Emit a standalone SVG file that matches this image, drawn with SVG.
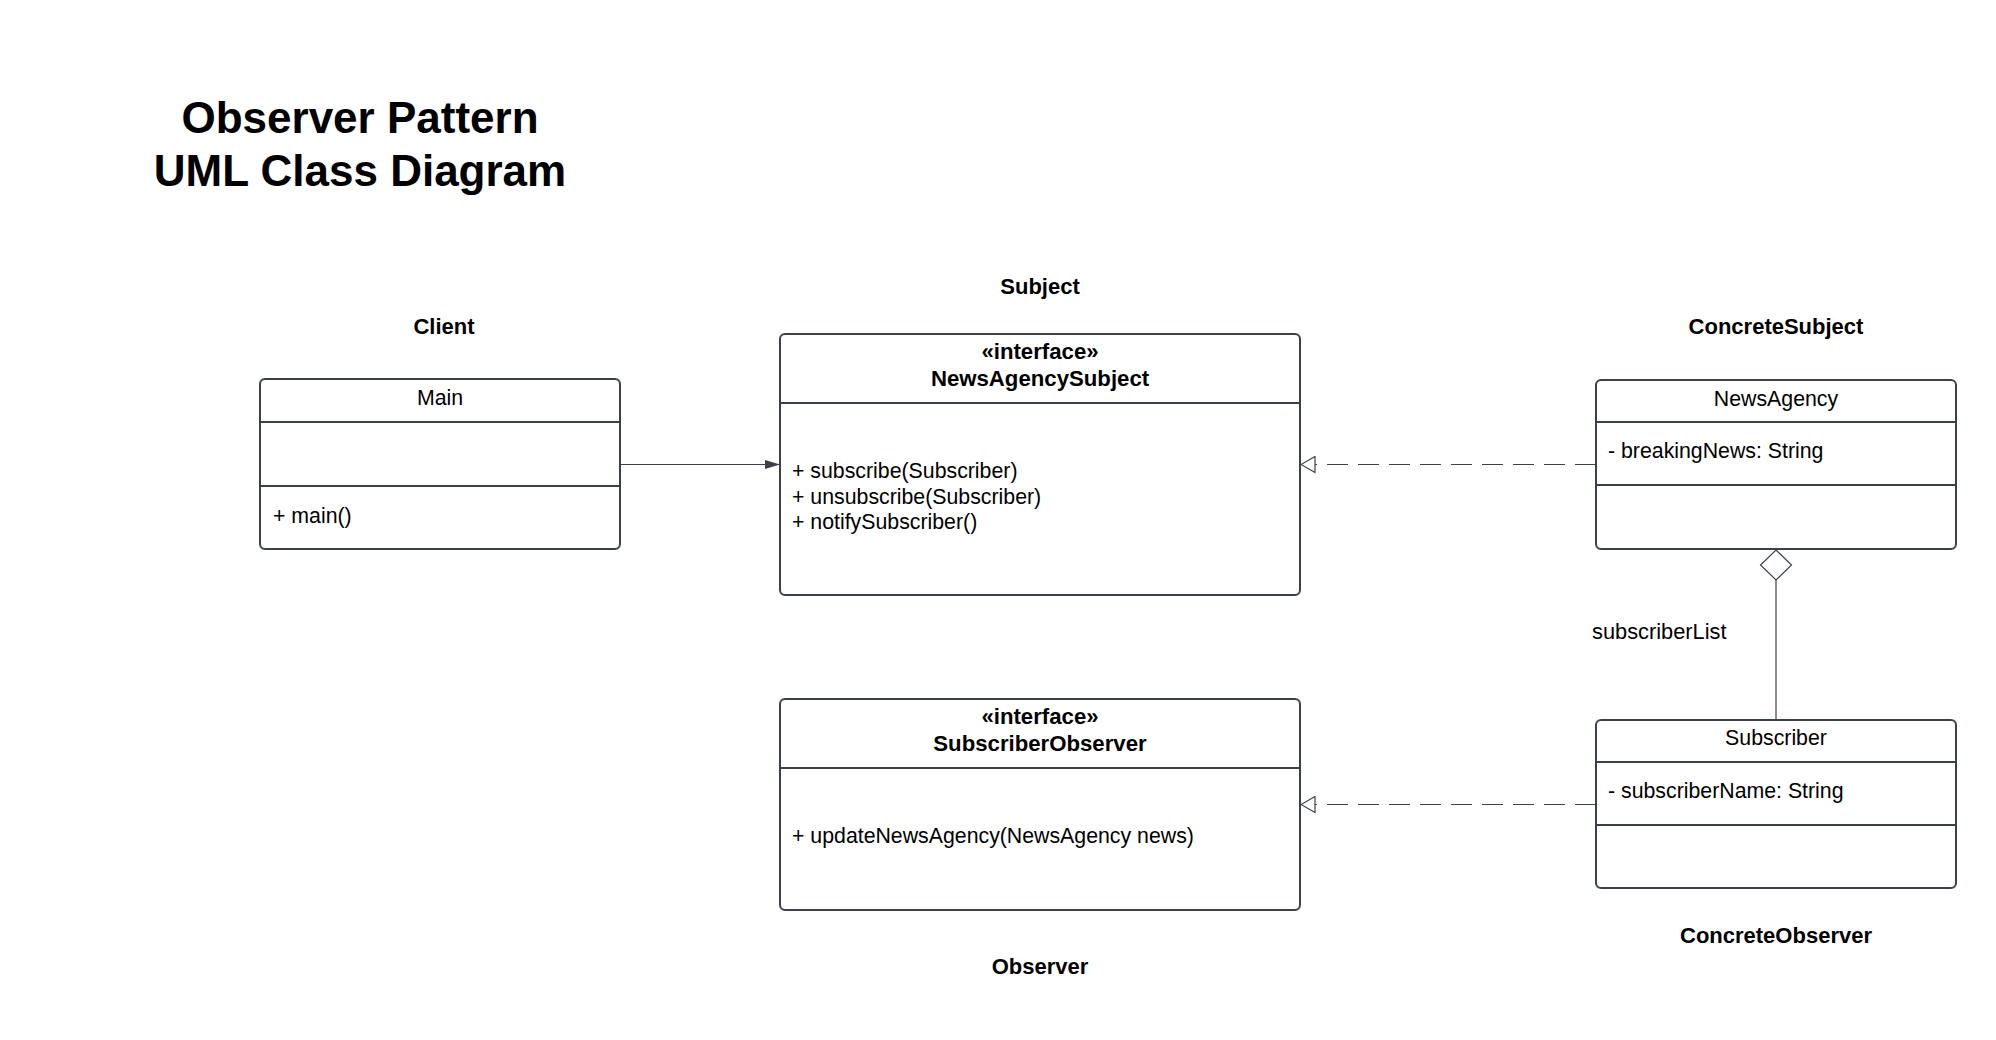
<svg xmlns="http://www.w3.org/2000/svg" width="1996" height="1040" viewBox="0 0 1996 1040">
  <style>
    text { font-family: "Liberation Sans", Arial, sans-serif; fill: #000; }
    .title { font-size: 44px; font-weight: bold; text-anchor: middle; }
    .lbl { font-size: 22px; font-weight: bold; text-anchor: middle; }
    .name { font-size: 21.3px; text-anchor: middle; }
    .bname { font-size: 22.2px; font-weight: bold; text-anchor: middle; }
    .mem { font-size: 21.3px; }
    .box { fill: #fff; stroke: #3a414a; stroke-width: 2; }
    .div { stroke: #3a414a; stroke-width: 2; }
    .conn { fill: none; stroke: #3a414a; stroke-width: 1.2; }
    .dash { stroke-dasharray: 21 10; }
  </style>
  <defs>
    <marker id="filled" viewBox="0 0 15 10" refX="15" refY="5" markerWidth="15" markerHeight="10" markerUnits="userSpaceOnUse" orient="auto">
      <path d="M0,0.5 L15,5 L0,9.5 Z" fill="#3a414a"/>
    </marker>
    <marker id="hollow" viewBox="0 0 16 18" refX="15" refY="9" markerWidth="16" markerHeight="18" markerUnits="userSpaceOnUse" orient="auto">
      <path d="M1,1 L15,9 L1,17 Z" fill="#fff" stroke="#3a414a" stroke-width="1.2"/>
    </marker>
  </defs>
  <rect width="1996" height="1040" fill="#fff"/>

  <g id="title">
    <text class="title" x="360" y="133">Observer Pattern</text>
    <text class="title" x="360" y="186">UML Class Diagram</text>
  </g>

  <g id="connectors">
    <line class="conn" x1="620" y1="464.5" x2="780" y2="464.5" marker-end="url(#filled)"/>
    <line class="conn dash" x1="1596" y1="464.5" x2="1301" y2="464.5" marker-end="url(#hollow)"/>
    <line class="conn dash" x1="1596" y1="804.5" x2="1301" y2="804.5" marker-end="url(#hollow)"/>
    <line class="conn" x1="1776" y1="580" x2="1776" y2="720"/>
    <path d="M1776,550 L1791.5,565 L1776,580 L1760.5,565 Z" fill="#fff" stroke="#3a414a" stroke-width="1.2"/>
    <text class="mem" x="1592" y="639" style="font-size:21.8px">subscriberList</text>
  </g>

  <g id="client">
    <text class="lbl" x="444" y="334">Client</text>
    <rect class="box" x="260" y="379" width="360" height="170" rx="5"/>
    <line class="div" x1="260" y1="422" x2="620" y2="422"/>
    <line class="div" x1="260" y1="486" x2="620" y2="486"/>
    <text class="name" x="440" y="405">Main</text>
    <text class="mem" x="273" y="523">+ main()</text>
  </g>

  <g id="subject">
    <text class="lbl" x="1040" y="294">Subject</text>
    <rect class="box" x="780" y="334" width="520" height="261" rx="5"/>
    <line class="div" x1="780" y1="403" x2="1300" y2="403"/>
    <text class="bname" x="1040" y="359">«interface»</text>
    <text class="bname" x="1040" y="386">NewsAgencySubject</text>
    <text class="mem" x="792" y="478">+ subscribe(Subscriber)</text>
    <text class="mem" x="792" y="503.5">+ unsubscribe(Subscriber)</text>
    <text class="mem" x="792" y="529">+ notifySubscriber()</text>
  </g>

  <g id="concreteSubject">
    <text class="lbl" x="1776" y="334">ConcreteSubject</text>
    <rect class="box" x="1596" y="380" width="360" height="169" rx="5"/>
    <line class="div" x1="1596" y1="422" x2="1956" y2="422"/>
    <line class="div" x1="1596" y1="485" x2="1956" y2="485"/>
    <text class="name" x="1776" y="406">NewsAgency</text>
    <text class="mem" x="1608" y="458">- breakingNews: String</text>
  </g>

  <g id="observer">
    <rect class="box" x="780" y="699" width="520" height="211" rx="5"/>
    <line class="div" x1="780" y1="768" x2="1300" y2="768"/>
    <text class="bname" x="1040" y="724">«interface»</text>
    <text class="bname" x="1040" y="751">SubscriberObserver</text>
    <text class="mem" x="792" y="843">+ updateNewsAgency(NewsAgency news)</text>
    <text class="lbl" x="1040" y="974">Observer</text>
  </g>

  <g id="concreteObserver">
    <rect class="box" x="1596" y="720" width="360" height="168" rx="5"/>
    <line class="div" x1="1596" y1="762" x2="1956" y2="762"/>
    <line class="div" x1="1596" y1="825" x2="1956" y2="825"/>
    <text class="name" x="1776" y="745">Subscriber</text>
    <text class="mem" x="1608" y="798">- subscriberName: String</text>
    <text class="lbl" x="1776" y="943">ConcreteObserver</text>
  </g>
</svg>
